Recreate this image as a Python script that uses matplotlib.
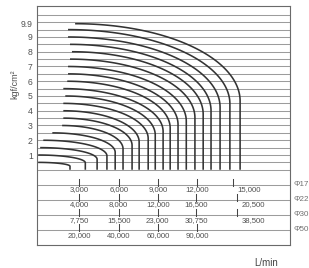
import matplotlib
matplotlib.use('Agg')
import matplotlib.pyplot as plt
import numpy as np

plt.rc('font', family='Liberation Sans', size=6)

# pressure of each curve (kgf/cm2) with the x where it starts and where it goes vertical
pressures = [0.5, 1, 1.5, 2, 2.5, 3, 3.5, 4, 4.5, 5, 5.5, 6, 6.5, 7, 7.5, 8, 8.5, 9, 9.5, 9.9]
x_start = [-0.05, -0.05, 0.0, 0.08, 0.31, 0.56, 0.59, 0.59, 0.59, 0.64,
           0.59, 0.69, 0.71, 0.71, 0.76, 0.81, 0.76, 0.71, 0.71, 0.89]
x_end = [0.76, 1.15, 1.45, 1.70, 1.91, 2.11, 2.34, 2.52, 2.75, 2.93,
         3.13, 3.31, 3.51, 3.72, 3.94, 4.15, 4.35, 4.58, 4.83, 5.09]

ytick_vals = [1, 2, 3, 4, 5, 6, 7, 8, 9, 9.9]
ytick_labels = ['1', '2', '3', '4', '5', '6', '7', '8', '9', '9.9']

# flow scales (L/min) for each pipe size
row_names = ['Φ17', 'Φ22', 'Φ30', 'Φ50']
row_labels = [
    ['3,000', '6,000', '9,000', '12,000', '15,000'],
    ['4,000', '8,000', '12,000', '16,500', '20,500'],
    ['7,750', '15,500', '23,000', '30,750', '38,500'],
    ['20,000', '40,000', '60,000', '90,000'],
]
row_ticks = [
    [1, 2, 3, 4, 4.9],
    [1, 2, 3, 3.97, 5.0],
    [1, 2, 2.99, 3.97, 5.0],
    [1, 2, 3, 4],
]

fig = plt.figure(figsize=(3.09, 2.68), dpi=100)
ax = fig.add_axes([37/309, 23/268, 253/309, 239/268])
ax.set_xlim(-0.08, 6.36)
ax.set_ylim(-5.1, 11.1)

grid_c = '#9c9c9c'
for g in np.arange(0, 11, 0.5):
    ax.axhline(g, color=grid_c, lw=0.75, zorder=1)

# curves: quarter ellipse then straight down to 0
for p, x0, xe in zip(pressures, x_start, x_end):
    yv = 0.47 * p
    t = np.linspace(0, np.pi/2, 80)
    xs = x0 + (xe - x0) * np.sin(t)
    ys = yv + (p - yv) * np.cos(t)
    xs = np.append(xs, xe)
    ys = np.append(ys, 0)
    ax.plot(xs, ys, color='#333333', lw=1.15, zorder=3, solid_capstyle='butt')

# flow table under the chart
for i in range(4):
    yl = -1.02 * (i + 1)
    ax.axhline(yl, color=grid_c, lw=0.75, zorder=1)
    for k, (xt, lab) in enumerate(zip(row_ticks[i], row_labels[i])):
        ax.plot([xt, xt], [yl - 0.1, yl + 0.4], color='#444444', lw=0.75, zorder=2)
        xl = xt + 0.42 if k == 4 else xt
        ax.text(xl, yl - 0.35, lab, ha='center', va='center', fontsize=5.6, color='#505050')
    ax.text(6.44, yl + 0.05, row_names[i], ha='left', va='center', fontsize=5.8,
            color='#707070', clip_on=False)

ax.set_yticks(ytick_vals)
ax.set_yticklabels(ytick_labels)
ax.set_xticks([])
ax.tick_params(axis='y', length=0, pad=3, labelsize=6.2, labelcolor='#505050')
for s in ax.spines.values():
    s.set_color('#6a6a6a')
    s.set_linewidth(0.8)

fig.text(15/309, 1 - 84/268, 'kgf/cm²', rotation=90, ha='center', va='center',
         fontsize=6.5, color='#505050')
fig.text(266/309, 1 - 263/268, 'L/min', ha='center', va='center', fontsize=7, color='#444444')

fig.savefig('out.png', dpi=100)
